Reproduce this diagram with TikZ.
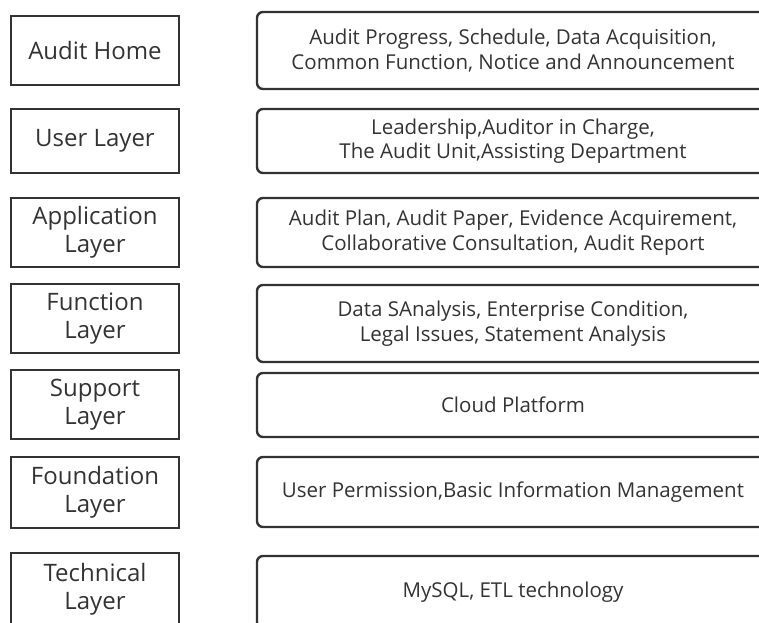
\documentclass[tikz,border=0pt]{standalone}
\usepackage{fontspec}
\setmainfont{Open Sans}
\usepackage{tikz}
\usetikzlibrary{positioning}
\definecolor{boxline}{HTML}{333333}
\definecolor{boxtext}{HTML}{333333}
\tikzset{layer/.style={draw=boxline,line width=2.4pt,rectangle,text=boxtext,
        minimum width=168pt,align=center,inner sep=0pt,
        font=\fontsize{24}{28}\selectfont}}
\tikzset{detail/.style={draw=boxline,line width=2.4pt,rectangle,rounded corners=6pt,
        text=boxtext,minimum width=512pt,align=center,inner sep=0pt,
        font=\fontsize{20.5}{24.5}\selectfont}}

\begin{document}
\begin{tikzpicture}[x=1pt,y=-1pt]
    \useasboundingbox (0,0) rectangle (759,622);
    \node[layer,minimum height=69pt] (l1) at (95,50.5)  {Audit Home};
    \node[layer,minimum height=64pt] (l2) at (95,141)   {User Layer};
    \node[layer,minimum height=69pt] (l3) at (95,232.5) {Application\\Layer};
    \node[layer,minimum height=69pt] (l4) at (95,318.5) {Function\\Layer};
    \node[layer,minimum height=69pt] (l5) at (95,404.5) {Support\\Layer};
    \node[layer,minimum height=71pt] (l6) at (95,492.5) {Foundation\\Layer};
    \node[layer,minimum height=72pt] (l7) at (95,589)   {Technical\\Layer};

    \node[detail,minimum height=77pt] (d1) at (513,50.5)
        {Audit Progress, Schedule, Data Acquisition,\\Common Function, Notice and Announcement};
    \node[detail,minimum height=64pt] (d2) at (513,141)
        {Leadership,Auditor in Charge,\\The Audit Unit,Assisting Department};
    \node[detail,minimum height=69pt] (d3) at (513,232.5)
        {Audit Plan, Audit Paper, Evidence Acquirement,\\Collaborative Consultation, Audit Report};
    \node[detail,minimum height=77pt] (d4) at (513,323.5)
        {Data SAnalysis, Enterprise Condition,\\Legal Issues, Statement Analysis};
    \node[detail,minimum height=64pt] (d5) at (513,405) {Cloud Platform};
    \node[detail,minimum height=70pt] (d6) at (513,492)
        {User Permission,Basic Information Management};
    \node[detail,minimum height=72pt] (d7) at (513,592) {MySQL, ETL technology};
\end{tikzpicture}
\end{document}
